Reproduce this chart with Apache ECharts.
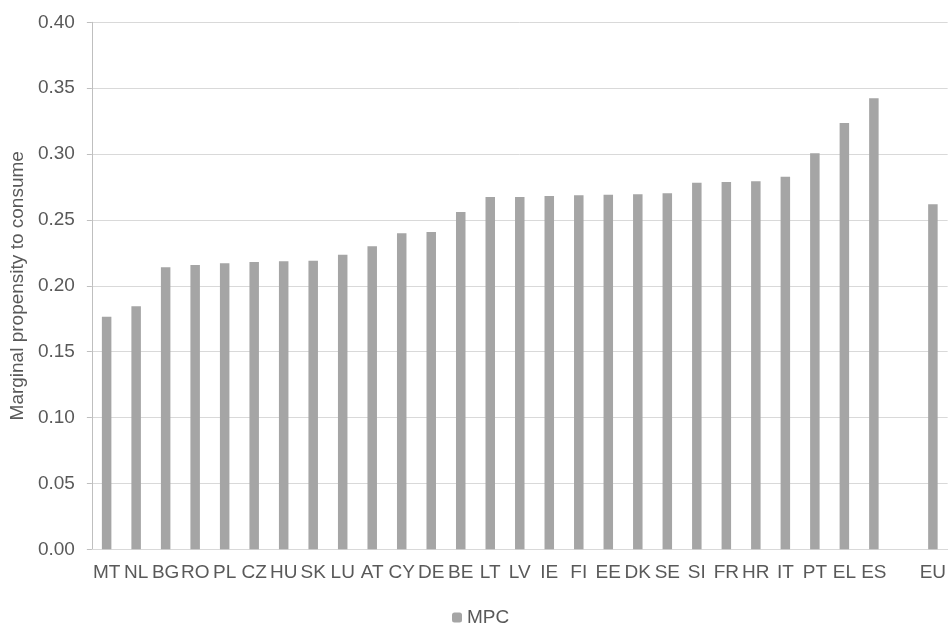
<!DOCTYPE html>
<html>
<head>
<meta charset="utf-8">
<script src="https://cdn.jsdelivr.net/npm/echarts@6/dist/echarts.min.js"></script>
<style>
html,body{margin:0;padding:0;background:#fff;}
#chart{width:949px;height:623px;}
</style>
</head>
<body>
<div id="chart"></div>
<script>
var categories = ['MT','NL','BG','RO','PL','CZ','HU','SK','LU','AT','CY','DE','BE','LT','LV','IE','FI','EE','DK','SE','SI','FR','HR','IT','PT','EL','ES','','EU'];
var mpcValues = [0.1765,0.1844,0.2140,0.2158,0.2171,0.2181,0.2186,0.2191,0.2236,0.2300,0.2398,0.2408,0.2560,0.2674,0.2674,0.2682,0.2687,0.2692,0.2694,0.2702,0.2783,0.2788,0.2793,0.2828,0.3006,0.3236,0.3423,null,0.2619];
var yTicks = {min: 0, max: 0.40, interval: 0.05};
var seriesName = 'MPC';
var yTitle = 'Marginal propensity to consume';

var chart = echarts.init(document.getElementById('chart'), null, {renderer: 'canvas'});
var font = 'Liberation Sans, Arial, sans-serif';
var fs = 19;
chart.setOption({
  animation: false,
  textStyle: {fontFamily: font},
  grid: {left: 90, right: -2, top: 22.3, bottom: 73.7, containLabel: false},
  legend: {
    data: [seriesName],
    top: 603,
    left: 447,
    itemWidth: 10,
    itemHeight: 10,
    itemGap: 6,
    textStyle: {fontSize: fs, color: '#595959', fontFamily: font}
  },
  xAxis: {
    type: 'category',
    data: categories,
    axisLine: {lineStyle: {color: '#d9d9d9', width: 1}},
    axisTick: {alignWithLabel: true, length: 5, lineStyle: {color: '#d9d9d9'}},
    axisLabel: {interval: 0, fontSize: fs, color: '#595959', margin: 14, fontFamily: font}
  },
  yAxis: {
    type: 'value',
    min: yTicks.min,
    max: yTicks.max,
    interval: yTicks.interval,
    name: yTitle,
    nameLocation: 'middle',
    nameGap: 61,
    nameTextStyle: {fontSize: fs, color: '#595959', fontFamily: font},
    axisLine: {show: true, lineStyle: {color: '#bfbfbf', width: 1}},
    axisTick: {show: true, length: 5, lineStyle: {color: '#bfbfbf'}},
    axisLabel: {fontSize: fs, color: '#595959', margin: 17, fontFamily: font,
      formatter: function(v){ return v.toFixed(2); }},
    splitLine: {lineStyle: {color: '#d9d9d9', width: 1}}
  },
  series: [{
    name: seriesName,
    type: 'bar',
    data: mpcValues,
    barWidth: 9.5,
    itemStyle: {color: '#a5a5a5'}
  }]
});
</script>
</body>
</html>
